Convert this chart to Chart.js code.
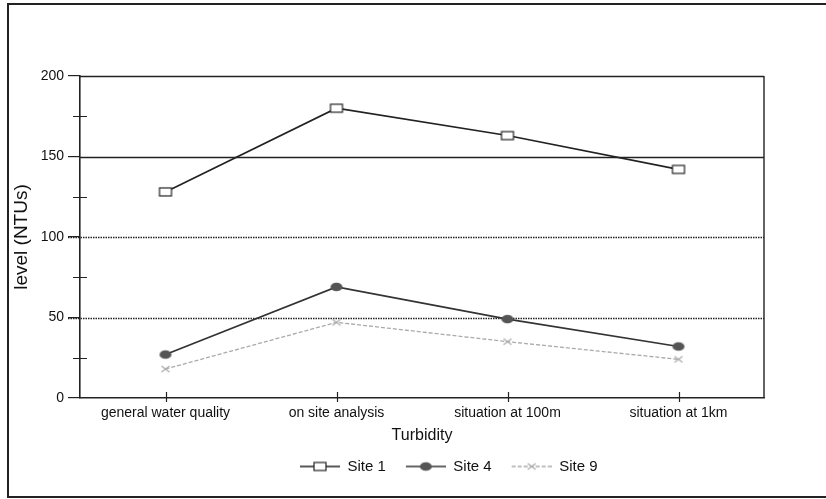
<!DOCTYPE html>
<html>
<head>
<meta charset="utf-8">
<script src="https://cdn.jsdelivr.net/npm/chart.js@4/dist/chart.umd.min.js"></script>
<style>
  html, body { margin: 0; padding: 0; background: #fff; }
  #wrap { position: relative; width: 826px; height: 499px; }
  canvas { display: block; }
</style>
</head>
<body>
<div id="wrap"><canvas id="c" width="826" height="499"></canvas></div>
<script>
const categories = ['general water quality', 'on site analysis', 'situation at 100m', 'situation at 1km'];
const site1 = [128, 180, 163, 142];
const site4 = [27, 69, 49, 32];
const site9 = [18, 47, 35, 24];
const yTicks = [0, 50, 100, 150, 200];
const yMinorTicks = [25, 75, 125, 175];
const solidGrid = [150, 200];
const dottedGrid = [50, 100];
const seriesNames = ['Site 1', 'Site 4', 'Site 9'];

const FONT = "'Liberation Sans', Arial, sans-serif";

function markerCanvas(kind, withLine) {
  const lead = withLine ? 6 : 0;
  const w = withLine ? 46 : 16, h = 14;
  const c = document.createElement('canvas');
  c.width = w; c.height = h;
  const g = c.getContext('2d');
  const cx = lead + (w - lead) / 2, cy = h / 2;
  if (withLine) {
    g.beginPath();
    if (kind === 'x') { g.setLineDash([4, 2]); g.strokeStyle = '#aaa'; g.lineWidth = 1.3; }
    else { g.strokeStyle = kind === 'rect' ? '#222' : '#333'; g.lineWidth = 1.6; }
    g.moveTo(lead, cy); g.lineTo(w, cy); g.stroke();
    g.setLineDash([]);
  }
  if (kind === 'rect') {
    g.fillStyle = '#fff'; g.strokeStyle = '#222'; g.lineWidth = 1.2;
    g.fillRect(cx - 6, cy - 4, 12, 8);
    g.strokeRect(cx - 6, cy - 4, 12, 8);
  } else if (kind === 'circle') {
    g.fillStyle = '#555';
    g.beginPath(); g.ellipse(cx, cy, 6, 4.3, 0, 0, Math.PI * 2); g.fill();
  } else if (kind === 'x') {
    g.strokeStyle = '#aaa'; g.lineWidth = 1.2;
    g.beginPath();
    g.moveTo(cx - 4, cy - 3); g.lineTo(cx + 4, cy + 3);
    g.moveTo(cx - 4, cy + 3); g.lineTo(cx + 4, cy - 3);
    g.stroke();
  }
  return c;
}

const kinds = ['rect', 'circle', 'x'];
const pointImgs = kinds.map(k => markerCanvas(k, false));
const legendImgs = kinds.map(k => markerCanvas(k, true));
const blankImg = markerCanvas('none', false);

const customAxes = {
  id: 'customAxes',
  beforeDatasetsDraw(chart) {
    const { ctx, chartArea: a, scales: { x, y } } = chart;
    ctx.save();
    ctx.strokeStyle = '#222';
    ctx.lineWidth = 1.4;
    solidGrid.forEach(v => {
      const py = Math.round(y.getPixelForValue(v)) + 0.5;
      ctx.beginPath(); ctx.moveTo(a.left, py); ctx.lineTo(a.right, py); ctx.stroke();
    });
    ctx.setLineDash([1.5, 1]);
    dottedGrid.forEach(v => {
      const py = Math.round(y.getPixelForValue(v)) + 0.5;
      ctx.beginPath(); ctx.moveTo(a.left - 12, py); ctx.lineTo(a.right, py); ctx.stroke();
    });
    ctx.setLineDash([]);
    ctx.beginPath(); ctx.moveTo(a.right, a.top); ctx.lineTo(a.right, a.bottom); ctx.stroke();
    ctx.lineWidth = 1;
    yMinorTicks.forEach(v => {
      const py = Math.round(y.getPixelForValue(v)) + 0.5;
      ctx.beginPath(); ctx.moveTo(a.left - 7, py); ctx.lineTo(a.left + 7, py); ctx.stroke();
    });
    ctx.lineWidth = 1.2;
    categories.forEach((c, i) => {
      const px = Math.round(x.getPixelForValue(i)) + 0.5;
      ctx.beginPath(); ctx.moveTo(px, a.bottom - 6); ctx.lineTo(px, a.bottom + 4); ctx.stroke();
    });
    ctx.restore();
  },
  afterDraw(chart) {
    const ctx = chart.ctx;
    ctx.save();
    ctx.strokeStyle = '#222';
    ctx.lineWidth = 2;
    ctx.strokeRect(8, 4, 830, 493);
    ctx.restore();
  }
};

const datasets = [site1, site4, site9].map((d, i) => ({
  label: seriesNames[i],
  data: d,
  borderColor: ['#222', '#333', '#aaa'][i],
  borderWidth: [1.6, 1.6, 1.3][i],
  borderDash: i === 2 ? [4, 2] : [],
  pointStyle: pointImgs[i],
  pointRadius: 5,
  tension: 0,
  fill: false
}));

new Chart(document.getElementById('c'), {
  type: 'line',
  data: { labels: categories, datasets },
  plugins: [customAxes],
  options: {
    responsive: false,
    animation: false,
    devicePixelRatio: 1,
    layout: { padding: { top: 76, right: 62, left: 10, bottom: 15 } },
    plugins: {
      tooltip: { enabled: false },
      legend: {
        position: 'bottom',
        onClick: null,
        labels: {
          usePointStyle: true,
          pointStyleWidth: 46,
          boxHeight: 14,
          font: { family: FONT, size: 15 },
          color: '#111',
          padding: 14,
          generateLabels(chart) {
            const spacer = {
              text: '\u00a0'.repeat(12),
              pointStyle: blankImg,
              fillStyle: 'transparent',
              strokeStyle: 'transparent',
              lineWidth: 0,
              hidden: false,
              fontColor: 'transparent'
            };
            return [spacer].concat(chart.data.datasets.map((ds, i) => ({
              text: ds.label,
              pointStyle: legendImgs[i],
              fillStyle: 'transparent',
              strokeStyle: 'transparent',
              lineWidth: 0,
              hidden: false,
              datasetIndex: i,
              fontColor: '#111'
            })));
          }
        }
      }
    },
    scales: {
      x: {
        offset: true,
        grid: { display: true, drawOnChartArea: false, drawTicks: true, tickLength: 4, color: 'transparent' },
        border: { display: true, color: '#222', width: 1.6 },
        ticks: { font: { family: FONT, size: 14 }, color: '#111', padding: 3, maxRotation: 0, autoSkip: false },
        title: { display: true, text: 'Turbidity', font: { family: FONT, size: 16 }, color: '#111', padding: { top: 1, bottom: 0 } }
      },
      y: {
        min: 0, max: 200,
        afterBuildTicks(scale) { scale.ticks = yTicks.map(v => ({ value: v })); },
        afterFit(scale) { scale.width = 70; },
        grid: { display: true, drawOnChartArea: false, drawTicks: true, tickLength: 12, color: '#222', tickColor: '#222', lineWidth: 1.2 },
        border: { display: true, color: '#222', width: 1.6 },
        ticks: { font: { family: FONT, size: 14 }, color: '#111', padding: 4 },
        title: { display: true, text: 'level (NTUs)', font: { family: FONT, size: 19 }, color: '#111', padding: { top: 0, bottom: 0 } }
      }
    }
  }
});
</script>
</body>
</html>
